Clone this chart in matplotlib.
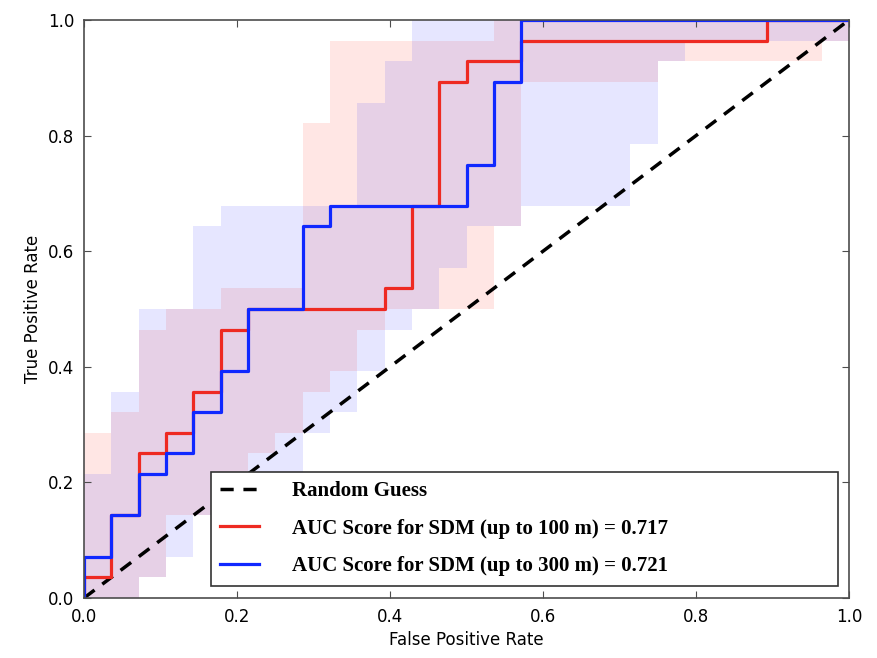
import numpy as np
import matplotlib
matplotlib.use("Agg")
import matplotlib.pyplot as plt

# ROC curves (step positions are in units of 1/28)
n = 28
red_steps_x = [0, 1, 2, 3, 4, 5, 6, 11, 12, 13, 14, 16, 25]
red_steps_y = [1, 4, 7, 8, 10, 13, 14, 15, 19, 25, 26, 27, 28]

blue_steps_x = [0, 1, 2, 3, 4, 5, 6, 8, 9, 14, 15, 16]
blue_steps_y = [2, 4, 6, 7, 9, 11, 14, 18, 19, 21, 25, 28]

# shaded spread bands, one value per 1/28-wide column
red_hi = [8, 9, 13, 14, 14, 15, 15, 15, 23, 27, 27, 27, 27, 27, 27, 28,
          28, 28, 28, 28, 28, 28, 28, 28, 28, 28, 28, 28]
red_lo = [0, 0, 1, 4, 4, 5, 7, 8, 10, 11, 13, 14, 14, 14, 14, 18,
          25, 25, 25, 25, 25, 26, 26, 26, 26, 26, 26, 27]
blue_hi = [6, 10, 14, 14, 18, 19, 19, 19, 19, 19, 24, 26, 28, 28, 28, 28,
           28, 28, 28, 28, 28, 28, 28, 28, 28, 28, 28, 28]
blue_lo = [0, 0, 1, 2, 4, 4, 5, 6, 8, 9, 11, 13, 14, 16, 18, 18,
           19, 19, 19, 19, 22, 26, 27, 27, 27, 27, 27, 27]

labels = ["Random Guess",
          "AUC Score for SDM (up to 100 m) = 0.717",
          "AUC Score for SDM (up to 300 m) = 0.721"]


def steps(xs, ys):
    # extend to x = 1 so the last level runs to the right edge
    x = np.array(xs + [n]) / n
    y = np.array(ys + [ys[-1]]) / n
    return x, y


def band(vals):
    return np.array(vals + [vals[-1]]) / n


fig = plt.figure(figsize=(8.77, 6.58), dpi=100)
ax = fig.add_axes([0.0958, 0.0912, 0.8723, 0.8784])

edges = np.arange(n + 1) / n
ax.fill_between(edges, band(red_lo), band(red_hi), step="post",
                color="#ff2010", alpha=0.11, linewidth=0)
ax.fill_between(edges, band(blue_lo), band(blue_hi), step="post",
                color="#2020ff", alpha=0.11, linewidth=0)

ax.plot([0, 1], [0, 1], color="black", linestyle="--", linewidth=2.5,
        dashes=(3.8, 2.8), label=labels[0])

rx, ry = steps(red_steps_x, red_steps_y)
ax.step(np.r_[0, rx], np.r_[0, ry], where="post", color="#ee2a22",
        linewidth=2.3, label=labels[1])
bx, by = steps(blue_steps_x, blue_steps_y)
ax.step(np.r_[0, bx], np.r_[0, by], where="post", color="#1028ff",
        linewidth=2.3, label=labels[2])

ax.set_xlim(0, 1)
ax.set_ylim(0, 1)
ax.set_xticks(np.arange(0, 1.01, 0.2))
ax.set_yticks(np.arange(0, 1.01, 0.2))
ax.tick_params(direction="in", top=True, right=True, length=5,
               labelsize=12, pad=7, color="0.3")
for s in ax.spines.values():
    s.set_color("0.3")
    s.set_linewidth(1.2)

ax.set_xlabel("False Positive Rate", fontsize=12)
ax.set_ylabel("True Positive Rate", fontsize=12)

leg = ax.legend(loc="lower left", bbox_to_anchor=(0.166, 0.021, 0.82, 0.195),
                mode="expand", borderaxespad=0, fancybox=False, framealpha=1,
                edgecolor="0.2", handlelength=1.85, handletextpad=1.6,
                borderpad=0.45, labelspacing=0.85,
                prop={"family": "Liberation Serif", "weight": "bold",
                      "size": 15})
leg.get_frame().set_linewidth(1.2)

fig.savefig("out.png", dpi=100)
